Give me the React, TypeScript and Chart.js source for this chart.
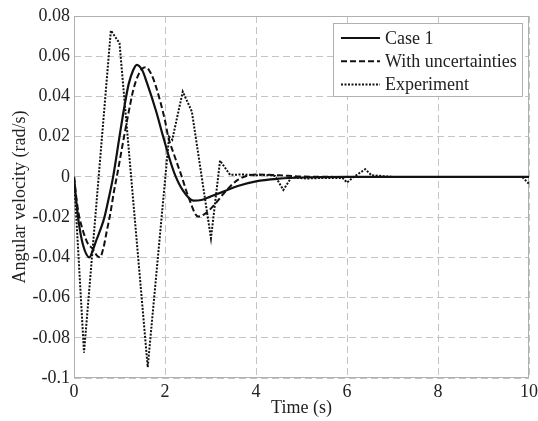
import React, { useEffect, useRef } from "react";
import { Chart, registerables } from "chart.js";

Chart.register(...registerables);

// ---- data ----
const case1Time = [0, 0.05, 0.1, 0.2, 0.34, 0.42, 0.5, 0.6, 0.67, 0.75, 0.86, 1.0, 1.1, 1.2, 1.3, 1.38, 1.5, 1.6, 1.8, 1.96, 2.1, 2.22, 2.4, 2.62, 2.8, 3.0, 3.3, 3.6, 4.0, 4.5, 5.0, 6.0, 8.0, 10.0];
const case1Vel = [0, -0.012, -0.022, -0.034, -0.04, -0.036, -0.031, -0.025, -0.02, -0.012, 0, 0.02, 0.034, 0.046, 0.053, 0.0557, 0.053, 0.047, 0.033, 0.02, 0.009, 0.001, -0.007, -0.0118, -0.0115, -0.0098, -0.0072, -0.0045, -0.0022, -0.0009, -0.0003, 0, 0, 0];

const uncTime = [0, 0.05, 0.1, 0.2, 0.3, 0.42, 0.5, 0.57, 0.65, 0.72, 0.8, 0.88, 0.94, 1.1, 1.2, 1.3, 1.4, 1.5, 1.58, 1.7, 1.8, 2.0, 2.07, 2.2, 2.37, 2.5, 2.73, 2.9, 3.1, 3.3, 3.6, 4.0, 4.5, 5.0, 6.0, 8.0, 10.0];
const uncVel = [0, -0.01, -0.018, -0.027, -0.033, -0.036, -0.039, -0.04, -0.035, -0.027, -0.018, -0.007, 0, 0.02, 0.032, 0.043, 0.05, 0.0538, 0.0545, 0.051, 0.045, 0.028, 0.02, 0.011, 0, -0.009, -0.0197, -0.018, -0.0135, -0.008, -0.0015, 0.0012, 0.0008, 0.0002, 0, 0, 0];

const expTime = [0, 0.22, 0.81, 1.0, 1.62, 2.09, 2.16, 2.39, 2.59, 3.01, 3.21, 3.43, 3.7, 4.0, 4.2, 4.42, 4.6, 4.78, 5.1, 5.5, 5.9, 6.0, 6.15, 6.4, 6.54, 7.0, 8.0, 9.0, 9.85, 10.0];
const expVel = [0, -0.0874, 0.0728, 0.0665, -0.0946, 0.02, 0.0185, 0.0424, 0.0325, -0.0305, 0.0081, 0.001, 0.0012, 0.0008, 0.001, 0.0005, -0.0065, -0.0002, -0.0008, -0.0005, -0.0005, -0.0028, 0, 0.0038, 0.0008, 0, 0, 0, 0, -0.0035];

const seriesNames = ["Case 1", "With uncertainties", "Experiment"];

const xTickValues = [0, 2, 4, 6, 8, 10];
const xTickLabels = ["0", "2", "4", "6", "8", "10"];
const yTickValues = [-0.1, -0.08, -0.06, -0.04, -0.02, 0, 0.02, 0.04, 0.06, 0.08];
const yTickLabels = ["-0.1", "-0.08", "-0.06", "-0.04", "-0.02", "0", "0.02", "0.04", "0.06", "0.08"];

const xTitle = "Time (s)";
const yTitle = "Angular velocity (rad/s)";

// ---- styles ----
const FONT = "'Liberation Serif', 'Times New Roman', serif";
const TEXT = "#222";
const LINE = "#111";
const GRID = "#c4c4c4";
const FRAME = "#b0b0b0";
const dashes: number[][] = [[], [6, 3], [2, 1.5]];

const toPts = (t: number[], v: number[]) => t.map((x, i) => ({ x, y: v[i] }));

const framePlugin = {
  id: "frame",
  beforeDatasetsDraw(chart: any) {
    const { ctx, chartArea: a } = chart;
    ctx.save();
    ctx.strokeStyle = FRAME;
    ctx.lineWidth = 1;
    ctx.strokeRect(a.left + 0.5, a.top + 0.5, a.right - a.left - 1, a.bottom - a.top - 1);
    ctx.restore();
  },
  afterDraw(chart: any) {
    const { ctx, chartArea: a } = chart;
    const w = 190;
    const h = 74;
    const x0 = a.right - 6 - w;
    const y0 = a.top + 7;
    ctx.save();
    ctx.fillStyle = "#fff";
    ctx.fillRect(x0, y0, w, h);
    ctx.strokeStyle = FRAME;
    ctx.lineWidth = 1;
    ctx.strokeRect(x0 + 0.5, y0 + 0.5, w - 1, h - 1);
    ctx.font = `18px ${FONT}`;
    ctx.textBaseline = "middle";
    ctx.textAlign = "left";
    seriesNames.forEach((name, i) => {
      const y = y0 + 15 + i * 23.3;
      ctx.strokeStyle = LINE;
      ctx.lineWidth = 2;
      ctx.setLineDash(dashes[i]);
      ctx.beginPath();
      ctx.moveTo(x0 + 8, y);
      ctx.lineTo(x0 + 47, y);
      ctx.stroke();
      ctx.setLineDash([]);
      ctx.fillStyle = TEXT;
      ctx.fillText(name, x0 + 52, y + 1);
    });
    ctx.restore();
  },
};

export default function App() {
  const ref = useRef<HTMLCanvasElement | null>(null);

  useEffect(() => {
    if (!ref.current) return;
    const chart = new Chart(ref.current, {
      type: "line",
      data: {
        datasets: [
          { label: seriesNames[0], data: toPts(case1Time, case1Vel), borderColor: LINE, borderWidth: 2.2, borderDash: dashes[0], pointRadius: 0, cubicInterpolationMode: "monotone", tension: 0.4 },
          { label: seriesNames[1], data: toPts(uncTime, uncVel), borderColor: LINE, borderWidth: 2, borderDash: dashes[1], pointRadius: 0, cubicInterpolationMode: "monotone", tension: 0.4 },
          { label: seriesNames[2], data: toPts(expTime, expVel), borderColor: LINE, borderWidth: 2, borderDash: dashes[2], pointRadius: 0, tension: 0 },
        ] as any,
      },
      options: {
        animation: false,
        responsive: false,
        devicePixelRatio: 1,
        layout: { padding: { top: 16, right: 9, left: 0, bottom: 0 } },
        plugins: { legend: { display: false }, tooltip: { enabled: false } },
        scales: {
          x: {
            type: "linear",
            min: 0,
            max: 10,
            afterBuildTicks: (s: any) => { s.ticks = xTickValues.map((value) => ({ value })); },
            afterFit: (s: any) => { s.height = 43; s.paddingLeft = 0; s.paddingRight = 0; },
            ticks: { padding: 3, color: TEXT, font: { family: FONT, size: 18 }, maxRotation: 0, callback: (_v: any, i: number) => xTickLabels[i] },
            grid: { color: GRID, lineWidth: 1, drawTicks: false },
            border: { display: false, dash: [7, 4] },
            title: { display: true, text: xTitle, color: TEXT, font: { family: FONT, size: 18 }, padding: { top: 0, bottom: 2 } },
          },
          y: {
            type: "linear",
            min: -0.1,
            max: 0.08,
            afterBuildTicks: (s: any) => { s.ticks = yTickValues.map((value) => ({ value })); },
            afterFit: (s: any) => { s.width = 74; s.paddingTop = 0; s.paddingBottom = 0; },
            ticks: { padding: 4, color: TEXT, font: { family: FONT, size: 18 }, callback: (_v: any, i: number) => yTickLabels[i] },
            grid: { color: GRID, lineWidth: 1, drawTicks: false },
            border: { display: false, dash: [7, 4] },
            title: { display: true, text: yTitle, color: TEXT, font: { family: FONT, size: 18 }, padding: { top: 9, bottom: 0 } },
          },
        },
      } as any,
      plugins: [framePlugin],
    });
    return () => chart.destroy();
  }, []);

  return (
    <div style={{ position: "absolute", left: 0, top: 0, width: 538, height: 421, background: "#fff" }}>
      <canvas ref={ref} width={538} height={421} />
    </div>
  );
}
